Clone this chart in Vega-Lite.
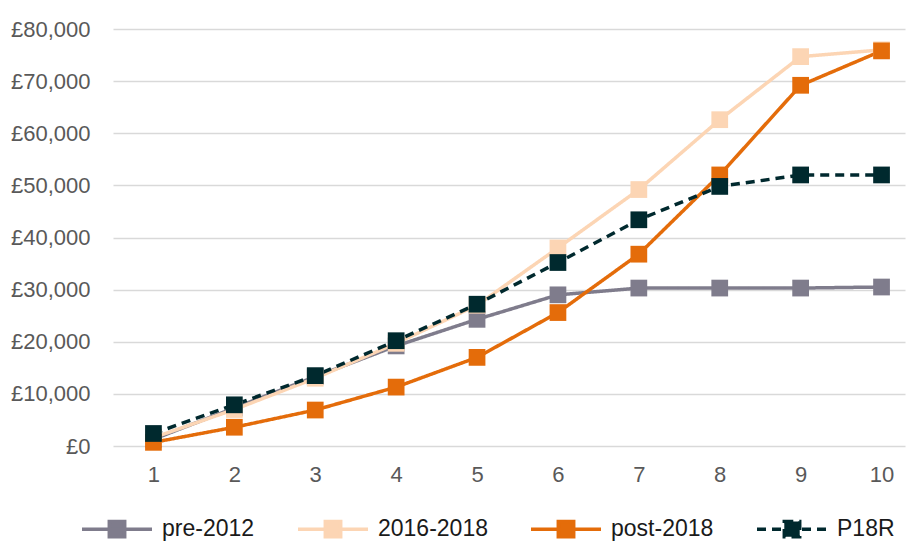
{
  "$schema": "https://vega.github.io/schema/vega-lite/v6.json",
  "width": 792,
  "height": 417,
  "autosize": {"type": "none"},
  "padding": {"left": 113, "top": 29, "right": 5, "bottom": 96},
  "background": "white",
  "config": {"view": {"stroke": null}, "font": "Liberation Sans"},
  "data": {
    "values": [
      {"series": "pre-2012", "year": 1, "value": 1300},
      {"series": "pre-2012", "year": 2, "value": 7300},
      {"series": "pre-2012", "year": 3, "value": 13300},
      {"series": "pre-2012", "year": 4, "value": 19200},
      {"series": "pre-2012", "year": 5, "value": 24300},
      {"series": "pre-2012", "year": 6, "value": 29000},
      {"series": "pre-2012", "year": 7, "value": 30300},
      {"series": "pre-2012", "year": 8, "value": 30300},
      {"series": "pre-2012", "year": 9, "value": 30300},
      {"series": "pre-2012", "year": 10, "value": 30500},
      {"series": "2016-2018", "year": 1, "value": 1600},
      {"series": "2016-2018", "year": 2, "value": 7000},
      {"series": "2016-2018", "year": 3, "value": 13000},
      {"series": "2016-2018", "year": 4, "value": 19700},
      {"series": "2016-2018", "year": 5, "value": 27000},
      {"series": "2016-2018", "year": 6, "value": 38000},
      {"series": "2016-2018", "year": 7, "value": 49200},
      {"series": "2016-2018", "year": 8, "value": 62600},
      {"series": "2016-2018", "year": 9, "value": 74700},
      {"series": "2016-2018", "year": 10, "value": 76000},
      {"series": "post-2018", "year": 1, "value": 700},
      {"series": "post-2018", "year": 2, "value": 3600},
      {"series": "post-2018", "year": 3, "value": 6900},
      {"series": "post-2018", "year": 4, "value": 11300},
      {"series": "post-2018", "year": 5, "value": 17000},
      {"series": "post-2018", "year": 6, "value": 25600},
      {"series": "post-2018", "year": 7, "value": 36800},
      {"series": "post-2018", "year": 8, "value": 52000},
      {"series": "post-2018", "year": 9, "value": 69200},
      {"series": "post-2018", "year": 10, "value": 75800},
      {"series": "P18R", "year": 1, "value": 2400},
      {"series": "P18R", "year": 2, "value": 7900},
      {"series": "P18R", "year": 3, "value": 13500},
      {"series": "P18R", "year": 4, "value": 20200},
      {"series": "P18R", "year": 5, "value": 27200},
      {"series": "P18R", "year": 6, "value": 35200},
      {"series": "P18R", "year": 7, "value": 43400},
      {"series": "P18R", "year": 8, "value": 49800},
      {"series": "P18R", "year": 9, "value": 52000},
      {"series": "P18R", "year": 10, "value": 52000}
    ]
  },
  "encoding": {
    "x": {
      "field": "year",
      "type": "quantitative",
      "scale": {"domain": [0.5, 10.29], "nice": false, "zero": false},
      "axis": {
        "values": [1, 2, 3, 4, 5, 6, 7, 8, 9, 10],
        "title": null,
        "grid": false,
        "ticks": false,
        "tickSize": 0,
        "domain": false,
        "labelFontSize": 22,
        "labelColor": "#595959",
        "labelPadding": 18,
        "labelFlush": false
      }
    },
    "y": {
      "field": "value",
      "type": "quantitative",
      "scale": {"domain": [0, 80000], "nice": false},
      "axis": {
        "values": [0, 10000, 20000, 30000, 40000, 50000, 60000, 70000, 80000],
        "title": null,
        "labelExpr": "'£' + format(datum.value, ',')",
        "gridColor": "#d9d9d9",
        "gridWidth": 1.5,
        "domain": false,
        "ticks": false,
        "tickSize": 0,
        "labelPadding": 23,
        "labelFontSize": 22,
        "labelColor": "#595959"
      }
    },
    "color": {
      "field": "series",
      "type": "nominal",
      "sort": ["pre-2012", "2016-2018", "post-2018", "P18R"],
      "scale": {
        "domain": ["pre-2012", "2016-2018", "post-2018", "P18R"],
        "range": ["#7F7C8C", "#FCD5B4", "#E46C0A", "#00292E"]
      },
      "legend": {
        "title": null,
        "orient": "none",
        "direction": "horizontal",
        "legendX": -33,
        "legendY": 463,
        "padding": 0,
        "symbolType": "M-1,0H1M-0.22,-0.22H0.22V0.22H-0.22Z",
        "symbolSize": 4900,
        "labelOffset": 8,
        "columnPadding": 36,
        "labelFontSize": 23,
        "labelColor": "#1a1a1a",
        "labelFont": "Liberation Sans",
        "labelLimit": 300,
        "encode": {
          "symbols": {
            "update": {
              "fill": {"scale": "color", "field": "value"},
              "stroke": {"scale": "color", "field": "value"},
              "strokeWidth": {"value": 3.5},
              "fillOpacity": {"value": 1},
              "opacity": {"value": 1},
              "strokeDash": [
                {"test": "datum.value === 'P18R'", "value": [6, 5]},
                {"value": []}
              ]
            }
          }
        }
      }
    }
  },
  "layer": [
    {
      "mark": {"type": "line", "strokeWidth": 3.5},
      "encoding": {
        "strokeDash": {
          "field": "series",
          "type": "nominal",
          "scale": {
            "domain": ["pre-2012", "2016-2018", "post-2018", "P18R"],
            "range": [[1, 0], [1, 0], [1, 0], [9, 6]]
          },
          "legend": null
        }
      }
    },
    {
      "mark": {"type": "point", "shape": "square", "filled": true, "size": 280, "opacity": 1}
    }
  ]
}
